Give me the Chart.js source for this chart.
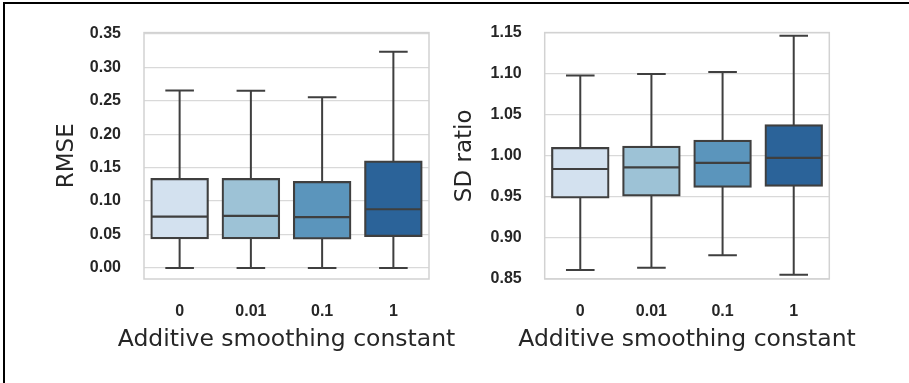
<!DOCTYPE html>
<html>
<head>
<meta charset="utf-8">
<script src="https://cdn.jsdelivr.net/npm/chart.js@4.4.1/dist/chart.umd.min.js"></script>
<style>
  html, body { margin: 0; padding: 0; background: #ffffff; }
  #wrap { position: relative; width: 909px; height: 383px; overflow: hidden; background: #fff; }
  #frame { position: absolute; left: 3px; top: 2px; width: 906px; height: 381px; border-top: 2px solid #000; border-left: 2px solid #000; box-sizing: border-box; }
  #c1 { position: absolute; left: 0; top: 0; }
  #c2 { position: absolute; left: 450px; top: 0; }
</style>
</head>
<body>
<div id="wrap">
  <div id="frame"></div>
  <canvas id="c1" width="470" height="383"></canvas>
  <canvas id="c2" width="459" height="383"></canvas>
</div>
<script>
// ---- data ----
const categories = ['0', '0.01', '0.1', '1'];
const boxColors = ['#d3e1ef', '#9dc2d6', '#5b95bc', '#2b6399'];
const xTitle = 'Additive smoothing constant';

// RMSE
const rmseLow    = [0.0000, 0.0000, 0.0000, 0.0000];
const rmseQ1     = [0.0446, 0.0446, 0.0442, 0.0481];
const rmseMedian = [0.0769, 0.0778, 0.0759, 0.0878];
const rmseQ3     = [0.1329, 0.1329, 0.1284, 0.1588];
const rmseHigh   = [0.2653, 0.2649, 0.2549, 0.3229];
const rmseTicks  = [0.00, 0.05, 0.10, 0.15, 0.20, 0.25, 0.30, 0.35];

// SD ratio
const sdLow    = [0.8609, 0.8637, 0.8790, 0.8552];
const sdQ1     = [0.9495, 0.9519, 0.9625, 0.9637];
const sdMedian = [0.9839, 0.9858, 0.9915, 0.9975];
const sdQ3     = [1.0093, 1.0108, 1.0181, 1.0371];
const sdHigh   = [1.0979, 1.0995, 1.1019, 1.1463];
const sdTicks  = [0.85, 0.90, 0.95, 1.00, 1.05, 1.10, 1.15];

// ---- styling ----
const LINE = '#3f3f3f';
const TEXT = '#262626';
const TICK_FONT = '"Liberation Sans", Arial, sans-serif';
const TITLE_FONT = '"DejaVu Sans", sans-serif';

const boxPlugin = {
  id: 'boxPlot',
  beforeDatasetsDraw(chart) {
    const {ctx} = chart;
    const bp = chart.options.plugins.boxPlot;
    const y = chart.scales.y;
    const meta = chart.getDatasetMeta(0);
    ctx.save();
    ctx.strokeStyle = LINE;
    ctx.lineWidth = 2;
    meta.data.forEach((bar, i) => {
      const x = bar.x;
      const half = 14.3;
      const yLo = y.getPixelForValue(bp.low[i]);
      const yHi = y.getPixelForValue(bp.high[i]);
      ctx.beginPath();
      ctx.moveTo(x, yLo); ctx.lineTo(x, yHi);
      ctx.moveTo(x - half, yLo); ctx.lineTo(x + half, yLo);
      ctx.moveTo(x - half, yHi); ctx.lineTo(x + half, yHi);
      ctx.stroke();
    });
    ctx.restore();
  },
  afterDatasetsDraw(chart) {
    const {ctx, chartArea} = chart;
    const bp = chart.options.plugins.boxPlot;
    const y = chart.scales.y;
    const meta = chart.getDatasetMeta(0);
    ctx.save();
    ctx.strokeStyle = LINE;
    ctx.lineWidth = 2.2;
    meta.data.forEach((bar, i) => {
      const ym = y.getPixelForValue(bp.median[i]);
      ctx.beginPath();
      ctx.moveTo(bar.x - bar.width / 2, ym);
      ctx.lineTo(bar.x + bar.width / 2, ym);
      ctx.stroke();
    });
    ctx.strokeStyle = '#d2d2d2';
    ctx.lineWidth = 1.5;
    ctx.strokeRect(chartArea.left, chartArea.top, chartArea.right - chartArea.left, chartArea.bottom - chartArea.top);
    ctx.restore();
  },
  afterDraw(chart) {
    // x-axis title drawn without Chart.js's maxWidth squeeze (the title is wider than the plot area)
    const {ctx, chartArea} = chart;
    const bp = chart.options.plugins.boxPlot;
    ctx.save();
    ctx.fillStyle = TEXT;
    ctx.font = '23.5px ' + TITLE_FONT;
    ctx.textAlign = 'center';
    ctx.textBaseline = 'alphabetic';
    ctx.fillText(bp.xTitle, (chartArea.left + chartArea.right) / 2, 346);
    ctx.restore();
  }
};

function makeChart(canvasId, cfg) {
  return new Chart(document.getElementById(canvasId), {
    type: 'bar',
    data: {
      labels: categories,
      datasets: [{
        data: cfg.q1.map((v, i) => [v, cfg.q3[i]]),
        backgroundColor: boxColors,
        borderColor: LINE,
        borderWidth: 2.2,
        borderSkipped: false,
        inflateAmount: 1.1,
        barPercentage: 0.79,
        categoryPercentage: 1.0
      }]
    },
    options: {
      responsive: false,
      animation: false,
      devicePixelRatio: 1,
      layout: { padding: cfg.padding },
      plugins: {
        legend: { display: false },
        tooltip: { enabled: false },
        boxPlot: { low: cfg.low, high: cfg.high, median: cfg.median, xTitle: xTitle }
      },
      scales: {
        x: {
          type: 'category',
          grid: { display: false, drawTicks: false },
          border: { display: false },
          ticks: {
            padding: 23,
            color: TEXT,
            font: { family: TICK_FONT, size: 16, weight: 'bold' }
          },
          title: { display: false },
          afterFit(s) { s.height = 104; }
        },
        y: {
          type: 'linear',
          min: cfg.min,
          max: cfg.max,
          afterBuildTicks(s) { s.ticks = cfg.ticks.map(v => ({ value: v })); },
          grid: { color: '#d9d9d9', lineWidth: 1.2, drawTicks: false },
          border: { display: false },
          ticks: {
            padding: 23,
            color: TEXT,
            font: { family: TICK_FONT, size: 16, weight: 'bold' },
            callback: v => Number(v).toFixed(2)
          },
          title: {
            display: true,
            text: cfg.title,
            color: TEXT,
            font: { family: TITLE_FONT, size: 23, weight: 'normal' },
            padding: { top: cfg.titlePad, bottom: 0 }
          },
          afterFit(s) { s.width = cfg.yWidth; }
        }
      }
    },
    plugins: [boxPlugin]
  });
}

makeChart('c1', {
  q1: rmseQ1, q3: rmseQ3, low: rmseLow, high: rmseHigh, median: rmseMedian,
  min: -0.0164, max: 0.3516, ticks: rmseTicks, title: 'RMSE',
  padding: { left: 0, right: 41, top: 31.7, bottom: 0 },
  yWidth: 144, titlePad: 53
});

makeChart('c2', {
  q1: sdQ1, q3: sdQ3, low: sdLow, high: sdHigh, median: sdMedian,
  min: 0.85, max: 1.15, ticks: sdTicks, title: 'SD ratio',
  padding: { left: 0, right: 79.7, top: 31.7, bottom: 0 },
  yWidth: 94.7, titlePad: 1.7
});
</script>
</body>
</html>
